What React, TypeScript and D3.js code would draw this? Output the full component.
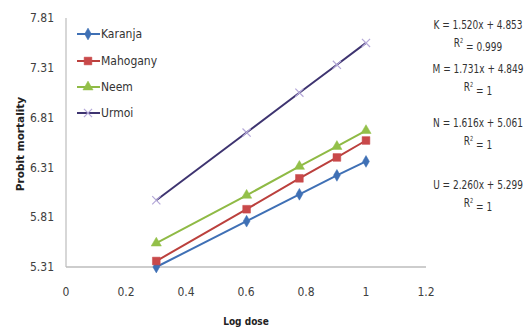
import React, { useEffect, useRef } from "react";
import * as d3 from "d3";

const logDose = [0.301, 0.602, 0.778, 0.903, 1.0];
const karanja = [5.31, 5.77, 6.04, 6.23, 6.37];
const mahogany = [5.37, 5.89, 6.2, 6.41, 6.58];
const neem = [5.55, 6.03, 6.32, 6.52, 6.68];
const urmoi = [5.98, 6.66, 7.06, 7.34, 7.56];
const seriesNames = ["Karanja", "Mahogany", "Neem", "Urmoi"];
const yTicks = [5.31, 5.81, 6.31, 6.81, 7.31, 7.81];
const xTicks = [0, 0.2, 0.4, 0.6, 0.8, 1, 1.2];
const equations = [
  ["K = 1.520x + 4.853", "0.999"],
  ["M = 1.731x + 4.849", "1"],
  ["N = 1.616x + 5.061", "1"],
  ["U = 2.260x + 5.299", "1"],
];

const colors = ["#3f70b5", "#bb403d", "#8fba45", "#3e3470"];
const markerColors = ["#3f70b5", "#c9494a", "#93c049", "#b4a8d8"];
const symbols = [d3.symbolDiamond, d3.symbolSquare, d3.symbolTriangle, d3.symbolX];
const symSizes = [40, 60, 45, 45];

const font = "'DejaVu Sans', sans-serif";

export default function App() {
  const svgRef = useRef<SVGSVGElement>(null);

  useEffect(() => {
    const svg = d3.select(svgRef.current);
    svg.selectAll("*").remove();
    const x = d3.scaleLinear().domain([0, 1.2]).range([66, 426]);
    const y = d3.scaleLinear().domain([5.31, 7.81]).range([267, 18]);
    const allSeries = [karanja, mahogany, neem, urmoi];

    // axes
    svg.append("line").attr("x1", 66).attr("x2", 66).attr("y1", y(7.81)).attr("y2", y(5.31))
      .attr("stroke", "#bdbdbd").attr("stroke-width", 1.2);
    svg.append("line").attr("x1", x(0)).attr("x2", x(1.2)).attr("y1", y(5.31)).attr("y2", y(5.31))
      .attr("stroke", "#bdbdbd").attr("stroke-width", 1.5);

    svg.append("g").selectAll("text").data(yTicks).join("text")
      .attr("x", 54).attr("y", (d) => y(d)).attr("dy", "0.35em")
      .attr("text-anchor", "end").attr("font-family", font).attr("font-stretch", "condensed")
      .attr("font-size", 12).attr("fill", "#404040")
      .text((d) => d.toFixed(2));
    svg.append("g").selectAll("text").data(xTicks).join("text")
      .attr("x", (d) => x(d)).attr("y", 296)
      .attr("text-anchor", "middle").attr("font-family", font).attr("font-stretch", "condensed")
      .attr("font-size", 12).attr("fill", "#404040")
      .text((d) => String(d));

    svg.append("text").attr("x", 246).attr("y", 325).attr("text-anchor", "middle")
      .attr("font-family", font).attr("font-stretch", "condensed").attr("font-size", 10)
      .attr("font-weight", "bold").attr("fill", "#222")
      .text("Log dose");
    svg.append("text").attr("transform", "translate(24,144) rotate(-90)").attr("text-anchor", "middle")
      .attr("font-family", font).attr("font-size", 10.5).attr("font-weight", "bold").attr("fill", "#222")
      .text("Probit mortality");

    const line = d3.line<number>().x((_, i) => x(logDose[i])).y((d) => y(d));

    allSeries.forEach((vals, s) => {
      const g = svg.append("g");
      g.append("path").attr("d", line(vals)).attr("fill", "none")
        .attr("stroke", colors[s]).attr("stroke-width", 2);
      const sym = d3.symbol().type(symbols[s]).size(symSizes[s]);
      g.selectAll("path.m").data(vals).join("path").attr("class", "m")
        .attr("d", sym())
        .attr("transform", (d, i) => `translate(${x(logDose[i])},${y(d)})`)
        .attr("fill", s === 3 ? "none" : markerColors[s])
        .attr("stroke", markerColors[s]).attr("stroke-width", s === 3 ? 1.2 : 0.5);
    });

    // legend
    const legY = [34, 61, 87, 113];
    seriesNames.forEach((name, s) => {
      const g = svg.append("g").attr("transform", `translate(0,${legY[s]})`);
      g.append("line").attr("x1", 77).attr("x2", 100).attr("y1", 0).attr("y2", 0)
        .attr("stroke", colors[s]).attr("stroke-width", 2);
      g.append("path").attr("d", d3.symbol().type(symbols[s]).size(symSizes[s])())
        .attr("transform", "translate(88,0)")
        .attr("fill", s === 3 ? "none" : markerColors[s])
        .attr("stroke", markerColors[s]).attr("stroke-width", s === 3 ? 1.2 : 0.5);
      g.append("text").attr("x", 101).attr("y", 0).attr("dy", "0.35em")
        .attr("font-family", font).attr("font-stretch", "condensed")
        .attr("font-size", 12).attr("fill", "#333").text(name);
    });

    // trendline equations (horizontally squeezed like the narrow original font)
    const eqY = [25, 69, 123, 185];
    equations.forEach(([eq, r2], k) => {
      const g = svg.append("g").attr("transform", `translate(478,${eqY[k]}) scale(0.8,1)`);
      g.append("text").attr("x", 0).attr("y", 0).attr("dy", "0.35em").attr("text-anchor", "middle")
        .attr("font-family", font).attr("font-stretch", "condensed")
        .attr("font-size", 12.5).attr("fill", "#333").text(eq);
      const t = g.append("text").attr("x", 0).attr("y", 18).attr("dy", "0.35em")
        .attr("text-anchor", "middle").attr("font-family", font).attr("font-stretch", "condensed")
        .attr("font-size", 12.5).attr("fill", "#333");
      t.append("tspan").text("R");
      t.append("tspan").attr("font-size", 7).attr("dy", "-0.6em").text("2");
      t.append("tspan").attr("dy", "0.6em").text(" = " + r2);
    });
  }, []);

  return (
    <div style={{ position: "fixed", left: 0, top: 0 }}>
      <svg ref={svgRef} width={524} height={327} style={{ display: "block", background: "#fff" }} />
    </div>
  );
}
